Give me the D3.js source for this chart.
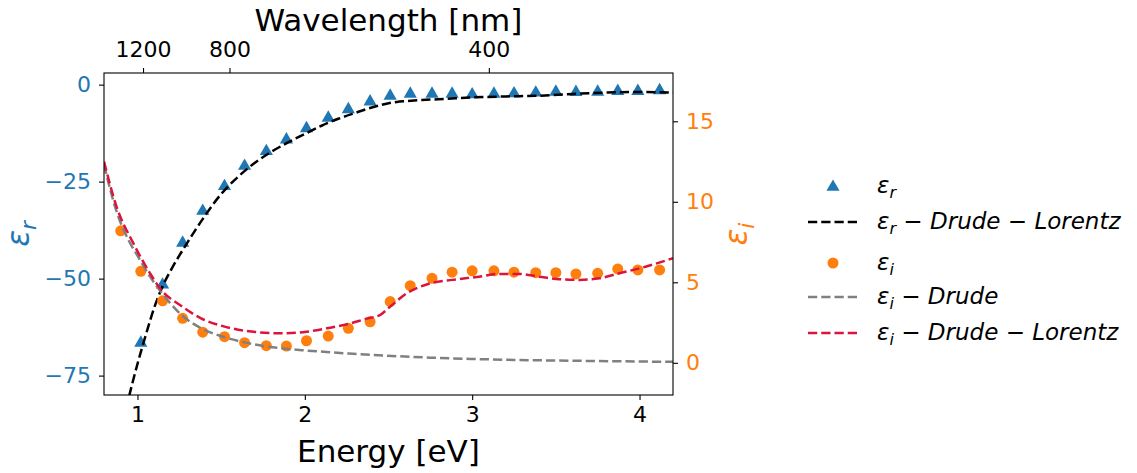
<!DOCTYPE html>
<html>
<head>
<meta charset="utf-8">
<script src="https://cdn.jsdelivr.net/npm/d3@7.9.0/dist/d3.min.js"></script>
<style>
  body { margin: 0; background: #fff; }
  svg { font-family: "DejaVu Sans", sans-serif; }
</style>
</head>
<body>
<svg id="chart" width="1137" height="473"></svg>
<script>
// measured points (energy in eV); no eps_r shown for the first energy (off scale)
const energy = [0.90, 1.02, 1.15, 1.27, 1.39, 1.52, 1.64, 1.77, 1.89, 2.01, 2.14, 2.26, 2.39, 2.51,
  2.63, 2.76, 2.88, 3.00, 3.13, 3.25, 3.38, 3.50, 3.62, 3.75, 3.87, 3.99, 4.12];
const epsR = [null, -66.2, -51.2, -40.4, -32.2, -25.8, -20.6, -16.8, -13.8, -10.9, -8.2, -6.0, -4.0, -2.5,
  -2.0, -2.0, -2.0, -2.15, -2.0, -1.9, -1.7, -1.5, -1.55, -1.5, -1.3, -1.3, -1.1];
const epsI = [8.2, 5.68, 3.85, 2.76, 1.9, 1.62, 1.25, 1.06, 1.04, 1.37, 1.66, 2.14, 2.55, 3.80,
  4.79, 5.25, 5.63, 5.71, 5.71, 5.63, 5.60, 5.60, 5.52, 5.56, 5.83, 5.77, 5.77];

// Drude-Lorentz fit of eps_r
const fitREnergy = [0.95, 1.0, 1.05, 1.1, 1.15, 1.2, 1.3, 1.4, 1.5, 1.6, 1.7, 1.8, 1.9, 2.0, 2.1, 2.2,
  2.3, 2.4, 2.5, 2.55, 2.6, 2.7, 2.8, 2.9, 3.0, 3.2, 3.4, 3.6, 3.8, 4.0, 4.2];
const fitR = [-80.3, -72.0, -64.5, -57.5, -52.0, -47.8, -40.6, -34.0, -28.2, -23.8, -20.2, -17.3, -14.9,
  -12.7, -10.6, -8.8, -7.3, -5.9, -4.8, -4.45, -4.25, -3.95, -3.75, -3.5, -3.3, -3.05, -2.85, -2.4, -2.05, -1.9, -2.05];

// Drude-only fit of eps_i
const drudeEnergy = [0.8, 0.875, 0.95, 1.0, 1.075, 1.14, 1.2, 1.26, 1.38, 1.51, 1.64, 1.76, 1.88, 2.0,
  2.13, 2.26, 2.4, 2.55, 2.75, 3.0, 3.25, 3.5, 3.75, 4.0, 4.2];
const drudeI = [12.3, 9.4, 7.55, 6.65, 5.35, 4.42, 3.65, 3.0, 2.15, 1.62, 1.27, 1.03, 0.88, 0.77,
  0.67, 0.58, 0.49, 0.41, 0.32, 0.24, 0.18, 0.14, 0.11, 0.08, 0.06];

// Drude-Lorentz fit of eps_i
const fitIEnergy = [0.8, 0.875, 0.975, 1.075, 1.14, 1.26, 1.38, 1.51, 1.64, 1.76, 1.88, 2.01, 2.13, 2.26,
  2.375, 2.45, 2.5, 2.61, 2.75, 2.885, 3.04, 3.16, 3.28, 3.40, 3.52, 3.64, 3.76, 3.88, 4.04, 4.2];
const fitI = [12.5, 9.7, 7.43, 5.56, 4.55, 3.55, 2.76, 2.28, 1.99, 1.87, 1.83, 1.93, 2.14, 2.41,
  2.76, 2.97, 3.4, 4.32, 4.94, 5.15, 5.35, 5.52, 5.52, 5.35, 5.19, 5.15, 5.25, 5.56, 5.98, 6.50];

const energyTicks = [1, 2, 3, 4];
const epsRTicks = [0, -25, -50, -75];
const epsITicks = [0, 5, 10, 15];
const wavelengthTicks = [1200, 800, 400];

const blue = "#1f77b4", orange = "#ff7f0e", red = "crimson", grey = "gray";
const dash = "9.25 4";

const svg = d3.select("#chart");
const plotLeft = 104, plotRight = 673, plotTop = 73, plotBottom = 395;

const x = d3.scaleLinear().domain([0.8, 4.2]).range([plotLeft, plotRight]);
const yR = d3.scaleLinear().domain([-80, 3]).range([plotBottom, plotTop]);
const yI = d3.scaleLinear().domain([-2, 18]).range([plotBottom, plotTop]);

svg.append("defs").append("clipPath").attr("id", "plot")
  .append("rect").attr("x", plotLeft).attr("y", plotTop)
  .attr("width", plotRight - plotLeft).attr("height", plotBottom - plotTop);

// axes
function styleAxis(g, color) {
  g.select(".domain").remove();
  g.selectAll(".tick line").attr("stroke", "#000").attr("stroke-width", 1.1);
  g.selectAll(".tick text").attr("fill", color).attr("font-size", 22)
    .attr("font-family", "DejaVu Sans");
}

const fmt = d => d < 0 ? "\u2212" + Math.abs(d) : String(d);

svg.append("g").attr("transform", `translate(0,${plotBottom})`)
  .call(d3.axisBottom(x).tickValues(energyTicks).tickSize(5).tickPadding(6).tickFormat(fmt))
  .call(g => styleAxis(g, "#000"));

svg.append("g").attr("transform", `translate(0,${plotTop})`)
  .call(d3.axisTop(x).tickValues(wavelengthTicks.map(l => 1239.84 / l))
    .tickSize(5).tickPadding(11).tickFormat((d, i) => wavelengthTicks[i]))
  .call(g => styleAxis(g, "#000"));

svg.append("g").attr("transform", `translate(${plotLeft},0)`)
  .call(d3.axisLeft(yR).tickValues(epsRTicks).tickSize(5).tickPadding(8).tickFormat(fmt))
  .call(g => styleAxis(g, blue));

svg.append("g").attr("transform", `translate(${plotRight},0)`)
  .call(d3.axisRight(yI).tickValues(epsITicks).tickSize(5).tickPadding(8).tickFormat(fmt))
  .call(g => styleAxis(g, orange));

// axis titles
svg.append("text").attr("x", (plotLeft + plotRight) / 2).attr("y", 462)
  .attr("text-anchor", "middle").attr("font-size", 31).text("Energy [eV]");
svg.append("text").attr("x", (plotLeft + plotRight) / 2).attr("y", 31)
  .attr("text-anchor", "middle").attr("font-size", 31).text("Wavelength [nm]");

// eps with subscript, optional trailing math text
function epsText(sel, sub, size, rest) {
  const t = sel.append("text").attr("font-size", size).attr("xml:space", "preserve");
  t.append("tspan").attr("font-style", "italic").text("\u03b5");
  t.append("tspan").attr("font-style", "italic").attr("font-size", size * 0.7)
    .attr("dy", size * 0.22).text(sub);
  if (rest) {
    t.append("tspan").attr("dy", -size * 0.22).text(" \u2212 ");
    rest.forEach((w, i) => {
      t.append("tspan").attr("font-style", "italic").text(w);
      if (i < rest.length - 1) t.append("tspan").text(" \u2212 ");
    });
  }
  return t;
}

epsText(svg, "r", 31).attr("fill", blue).attr("text-anchor", "middle")
  .attr("transform", "translate(29,234) rotate(-90)");
epsText(svg, "i", 31).attr("fill", orange).attr("text-anchor", "middle")
  .attr("transform", "translate(747,234) rotate(-90)");

// plot content
const plot = svg.append("g").attr("clip-path", "url(#plot)");

const lineR = d3.line().x(d => x(d[0])).y(d => yR(d[1])).curve(d3.curveMonotoneX);
const lineI = d3.line().x(d => x(d[0])).y(d => yI(d[1])).curve(d3.curveMonotoneX);

const tri = d3.symbol().type(d3.symbolTriangle).size(75);

plot.selectAll(".tri")
  .data(d3.zip(energy, epsR).filter(d => d[1] !== null))
  .join("path").attr("class", "tri")
  .attr("transform", d => `translate(${x(d[0])},${yR(d[1]) + 1.5})`)
  .attr("d", tri).attr("fill", blue);

plot.append("path").datum(d3.zip(fitREnergy, fitR)).attr("d", lineR)
  .attr("fill", "none").attr("stroke", "#000").attr("stroke-width", 2.5).attr("stroke-dasharray", dash);

plot.selectAll(".dot")
  .data(d3.zip(energy, epsI))
  .join("circle").attr("class", "dot")
  .attr("cx", d => x(d[0])).attr("cy", d => yI(d[1])).attr("r", 5.5).attr("fill", orange);

plot.append("path").datum(d3.zip(drudeEnergy, drudeI)).attr("d", lineI)
  .attr("fill", "none").attr("stroke", grey).attr("stroke-width", 2.5).attr("stroke-dasharray", dash);

plot.append("path").datum(d3.zip(fitIEnergy, fitI)).attr("d", lineI)
  .attr("fill", "none").attr("stroke", red).attr("stroke-width", 2.5).attr("stroke-dasharray", dash);

// frame
svg.append("rect").attr("x", plotLeft).attr("y", plotTop)
  .attr("width", plotRight - plotLeft).attr("height", plotBottom - plotTop)
  .attr("fill", "none").attr("stroke", "#000").attr("stroke-width", 1.1);

// legend
const legend = svg.append("g");
const rows = [
  { y: 186, kind: "tri", color: blue, sub: "r" },
  { y: 222, kind: "line", color: "#000", sub: "r", rest: ["Drude", "Lorentz"] },
  { y: 263, kind: "dot", color: orange, sub: "i" },
  { y: 297, kind: "line", color: grey, sub: "i", rest: ["Drude"] },
  { y: 333, kind: "line", color: red, sub: "i", rest: ["Drude", "Lorentz"] }
];
rows.forEach(r => {
  if (r.kind === "tri") {
    legend.append("path").attr("d", tri).attr("fill", r.color)
      .attr("transform", `translate(833,${r.y + 1})`);
  } else if (r.kind === "dot") {
    legend.append("circle").attr("cx", 833).attr("cy", r.y).attr("r", 5.5).attr("fill", r.color);
  } else {
    legend.append("line").attr("x1", 808).attr("x2", 857).attr("y1", r.y).attr("y2", r.y)
      .attr("stroke", r.color).attr("stroke-width", 2.5).attr("stroke-dasharray", dash);
  }
  epsText(legend, r.sub, 23, r.rest).attr("x", 877).attr("y", r.y + 7).attr("fill", "#000");
});
</script>
</body>
</html>
